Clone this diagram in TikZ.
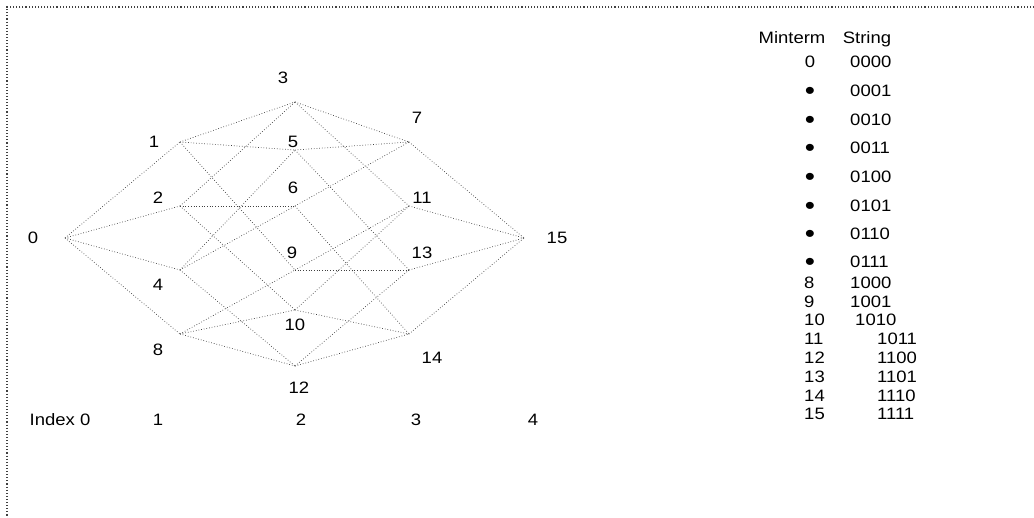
\documentclass[tikz,border=0pt]{standalone}
\usepackage{fontspec}
\setmainfont{Liberation Sans}
\usetikzlibrary{positioning}
\definecolor{cubeline}{HTML}{404040}
\definecolor{frameline}{HTML}{404040}
\tikzset{
  lbl/.style={
    font=\fontsize{16.5}{19}\selectfont,
    inner sep=0pt,
    text height=11.8pt,
    text depth=0pt,
    xscale=1.12,   % glyphs are wide in the reference
  },
  dot/.style={lbl, font=\fontsize{26}{26}\selectfont},
  cubeedge/.style={dotted, draw=cubeline, line width=0.7pt},
  outerframe/.style={dotted, draw=frameline, line width=1.1pt},
}

\begin{document}
\begin{tikzpicture}[x=1pt, y=-1pt]
\useasboundingbox (0,0) rectangle (1034,518);

% Outer frame (only top and left edges visible)
\draw[outerframe] (1034,7) -- (7,7) -- (7,518);

% Vertices of the 4-cube, ordered by index
\coordinate (m0)  at (65,238);
\coordinate (m1)  at (180,142);
\coordinate (m2)  at (180,206);
\coordinate (m4)  at (180,270);
\coordinate (m8)  at (180,334);
\coordinate (m3)  at (295,102);
\coordinate (m5)  at (295,150);
\coordinate (m6)  at (295,206);
\coordinate (m9)  at (295,270);
\coordinate (m10) at (295,310);
\coordinate (m12) at (295,366);
\coordinate (m7)  at (409,142);
\coordinate (m11) at (409,206);
\coordinate (m13) at (409,270);
\coordinate (m14) at (409,334);
\coordinate (m15) at (524,238);

% --- Edges (minterms one bit apart) -------------------------------------
\foreach \a/\b in {0/1, 0/2, 0/4, 0/8,
                   1/3, 1/5, 1/9, 2/3, 2/6, 2/10, 4/5, 4/6, 4/12, 8/9, 8/10, 8/12,
                   3/7, 3/11, 5/7, 5/13, 6/7, 6/14, 9/11, 9/13, 10/11, 10/14, 12/13, 12/14,
                   7/15, 11/15, 13/15, 14/15}
  {\draw[cubeedge] (m\a) -- (m\b);}

% Vertex labels
\foreach \n/\x/\y in {0/33/238, 1/154/142, 2/158/198, 4/158/285, 8/158/350,
                      3/283/78, 5/293/142, 6/293/188, 9/292/253, 10/295/325, 12/299/388,
                      7/417/118, 11/422/198, 13/422/253, 14/432/358, 15/557/238}
  {\node[lbl] (l\n) at (\x,\y) {\n};}

% Index row
\node[lbl] (idx0) at (60,420) {Index 0};
\node[lbl] (idx1) at (158,420) {1};
\node[lbl] (idx2) at (301,420) {2};
\node[lbl] (idx3) at (416,420) {3};
\node[lbl] (idx4) at (533,420) {4};

% --- Table --------------------------------------------------------------
\node[lbl] (hmin) at (792,38) {Minterm};
\node[lbl] (hstr) at (867,38) {String};

\node[lbl] (t0) at (810,62) {0};
\node[lbl, anchor=west] (s0000) at (850,62) {0000};
\foreach \s/\y in {0001/91, 0010/120, 0011/148, 0100/177, 0101/206, 0110/234, 0111/262}
  {\node[dot] (b\s) at (810,\y+3) {\textbullet};
   \node[lbl, anchor=west] (s\s) at (850,\y) {\s};}

\foreach \n/\y in {8/283, 9/302, 10/320, 11/339, 12/358, 13/377, 14/396, 15/414}
  {\node[lbl, anchor=west] (t\n) at (804,\y) {\n};}
\node[lbl, anchor=west] (s1000) at (850,283) {1000};
\node[lbl, anchor=west] (s1001) at (850,302) {1001};
\node[lbl, anchor=west] (s1010) at (855,320) {1010};
\foreach \s/\y in {1011/339, 1100/358, 1101/377, 1110/396, 1111/414}
  {\node[lbl, anchor=west] (s\s) at (877,\y) {\s};}

\end{tikzpicture}
\end{document}
